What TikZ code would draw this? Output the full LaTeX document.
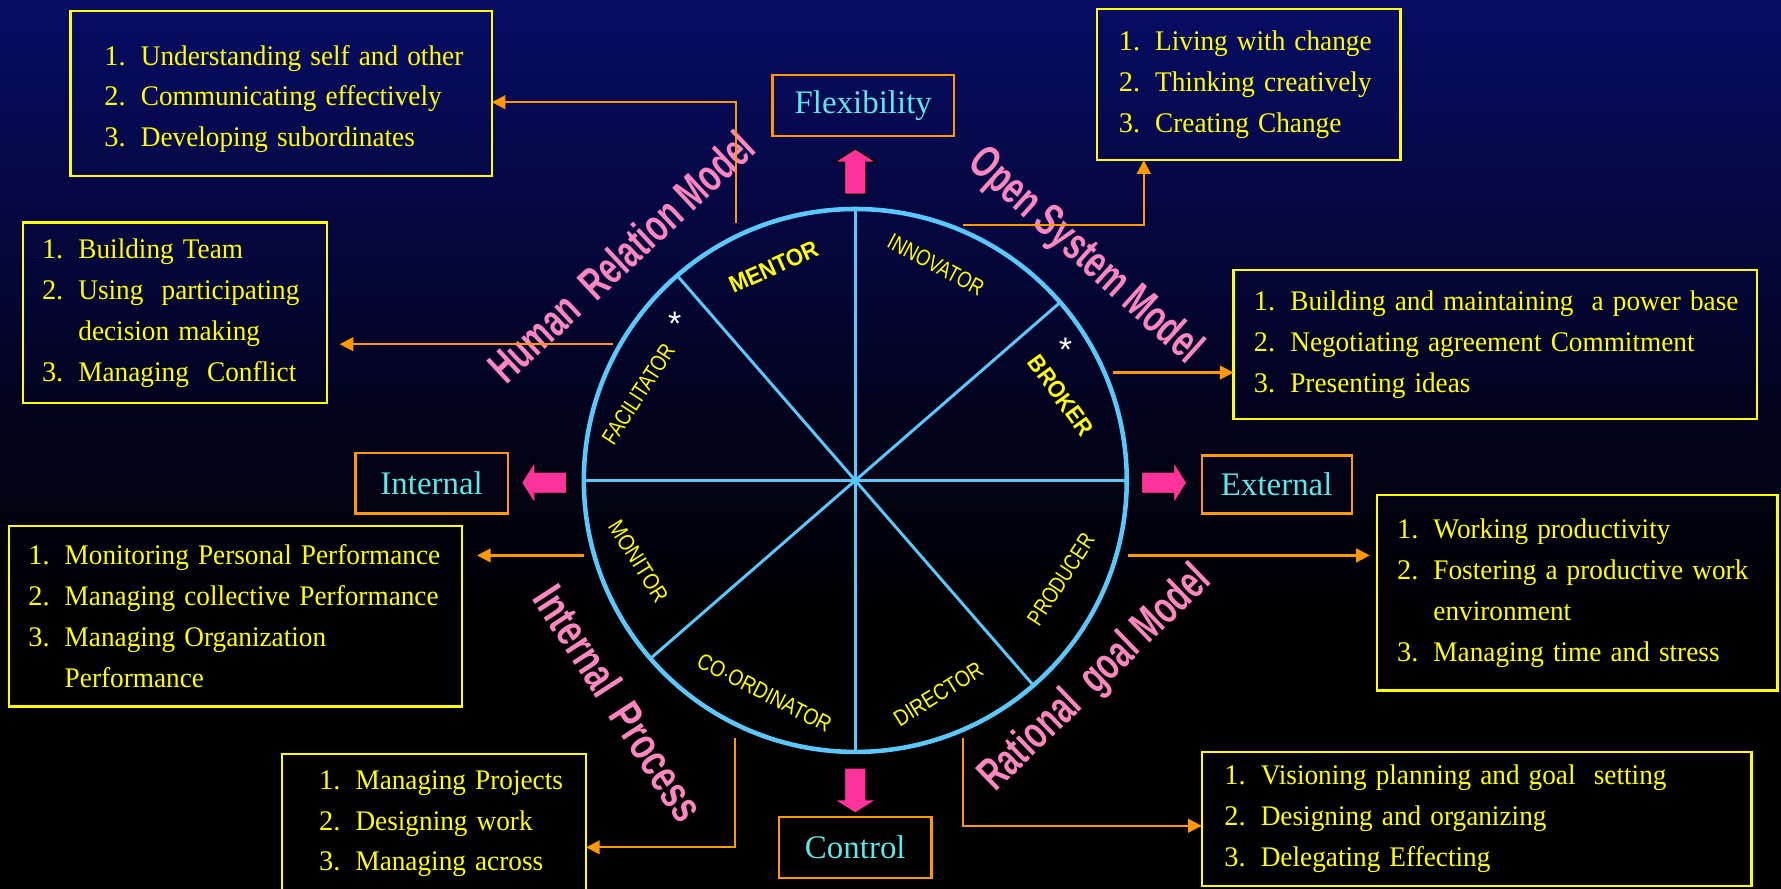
\documentclass[tikz,border=0pt]{standalone}
\usepackage{fontspec}
\setmainfont{Liberation Serif}
\newfontfamily\sansf{Liberation Sans}
\usetikzlibrary{arrows.meta}
\definecolor{bgtop}{RGB}{8,12,100}
\definecolor{bgmid}{RGB}{5,7,62}
\definecolor{bgbot}{RGB}{3,3,30}
\definecolor{boxyellow}{RGB}{255,255,0}
\definecolor{roleyellow}{RGB}{255,255,0}
\definecolor{connorange}{RGB}{255,153,0}
\definecolor{labelcyan}{RGB}{95,230,230}
\definecolor{wheelblue}{RGB}{90,200,250}
\definecolor{arrowpink}{RGB}{255,51,153}
\definecolor{modelpink}{RGB}{252,135,192}
\pgfdeclareverticalshading{bgshade}{100bp}{color(0bp)=(black); color(25bp)=(black); color(40bp)=(black); color(52bp)=(bgbot); color(62bp)=(bgmid); color(75bp)=(bgtop); color(100bp)=(bgtop)}
\newcommand{\itm}[2]{\mbox{\makebox[32pt][l]{#1}\scalebox{0.96}[1]{#2}}}
\newcommand{\cont}[1]{\mbox{\hspace*{32pt}\scalebox{0.96}[1]{#1}}}
\tikzset{
  blockarrow/.pic={\draw[fill=arrowpink, draw=black, line width=1.2pt]
    (0,-9.5) -- (28,-9.5) -- (28,-19) -- (40,0) -- (28,19) -- (28,9.5) -- (0,9.5) -- cycle;}
}
\begin{document}
\begin{tikzpicture}[x=1pt,y=-1pt,
  ybox/.style={draw=boxyellow, line width=2pt, text=boxyellow, font=\fontsize{25}{36}\selectfont, align=left, anchor=north west, inner ysep=0pt, outer sep=0pt},
  cbox/.style={draw=connorange, line width=2pt, text=labelcyan, font=\fontsize{29}{34}\selectfont, inner sep=0pt, outer sep=0pt},
  conn/.style={draw=connorange, line width=2pt, -{Triangle[length=12pt,width=12pt]}},
  spoke/.style={draw=wheelblue, line width=2.6pt},
  role/.style={text=roleyellow, font=\sansf\fontsize{20}{22}\selectfont, inner sep=0pt},
  rolebold/.style={role, font=\sansf\bfseries\fontsize{21}{22}\selectfont},
  model/.style={text=modelpink, font=\sansf\bfseries\fontsize{40}{42}\selectfont, inner sep=0pt},
  star/.style={text=white, font=\sansf\fontsize{30}{32}\selectfont, inner sep=0pt},
]
\useasboundingbox (0,0) rectangle (1568,782);
\shade[shading=bgshade] (0,0) rectangle (1568,782);

% wheel
\node[circle, draw=wheelblue, line width=4pt, minimum size=478pt, inner sep=0pt, outer sep=0pt] (wheel) at (753,423) {};
\draw[spoke] (wheel.41) -- (wheel.221);
\draw[spoke] (wheel.131) -- (wheel.311);
\draw[spoke] (wheel.0) -- (wheel.180);
\draw[spoke] (wheel.90) -- (wheel.270);

% roles
\node[rolebold, rotate=24] (mentor) at (681,235) {\scalebox{0.92}[1]{MENTOR}};
\node[role, rotate=-28] (innov) at (824,233) {\scalebox{0.8}[1]{INNOVATOR}};
\node[rolebold, rotate=-54] (broker) at (934,348) {\scalebox{0.9}[1]{BROKER}};
\node[role, rotate=57] (producer) at (934,510) {\scalebox{0.8}[1]{PRODUCER}};
\node[role, rotate=32] (director) at (826,611) {\scalebox{0.85}[1]{DIRECTOR}};
\node[role, rotate=-27] (coord) at (673,610) {\scalebox{0.84}[1]{CO$\cdot$ORDINATOR}};
\node[role, rotate=-58] (monitor) at (562,494) {\scalebox{0.86}[1]{MONITOR}};
\node[role, rotate=57] (facil) at (562,347) {\scalebox{0.8}[1]{FACILITATOR}};
\node[star] (star1) at (594,285) {*};
\node[star] (star2) at (938,308) {*};

% model labels
\node[model, rotate=43] (hrm) at (547,226) {\scalebox{0.685}[1]{Human\ \ Relation Model}};
\node[model, rotate=-42] (osm) at (955,226) {\scalebox{0.685}[1]{Open System Model}};
\node[model, rotate=44] (rgm) at (965,598) {\scalebox{0.685}[1]{Rational\ \ goal Model}};
\node[model, rotate=-57] (ipm) at (545,619) {\scalebox{0.74}[1]{Internal\ \ Process}};

% direction boxes
\node[cbox, minimum width=160pt, minimum height=54pt] (flex) at (760,93) {Flexibility};
\node[cbox, minimum width=134pt, minimum height=53pt] (intl) at (380,425.5) {Internal};
\node[cbox, minimum width=132pt, minimum height=51pt] (extl) at (1124,426.5) {External};
\node[cbox, minimum width=134pt, minimum height=54pt] (ctrl) at (753,746) {Control};

\pic[rotate=90] at (753,171) {blockarrow};
\pic[rotate=180] at (499,425) {blockarrow};
\pic at (1005,425) {blockarrow};
\pic[rotate=-90] at (753,676) {blockarrow};

% competence boxes
\node[ybox, minimum width=371pt, minimum height=145pt, inner xsep=30pt, text width=311pt] (b1) at (62,10)
  {\rule{0pt}{27pt}\itm{1.}{Understanding self and other}\\ \itm{2.}{Communicating effectively}\\ \itm{3.}{Developing subordinates}};
\node[ybox, minimum width=267pt, minimum height=133pt, inner xsep=19pt, text width=229pt] (b2) at (966,8)
  {\itm{1.}{Living with change}\\ \itm{2.}{Thinking creatively}\\ \itm{3.}{Creating Change}};
\node[ybox, minimum width=268pt, minimum height=159pt, inner xsep=17pt, text width=234pt] (b3) at (20,196)
  {\itm{1.}{Building Team}\\ \itm{2.}{Using\ \ participating}\\ \cont{decision making}\\ \itm{3.}{Managing\ \ Conflict}};
\node[ybox, minimum width=461pt, minimum height=131pt, inner xsep=18pt, text width=425pt] (b4) at (1086,238)
  {\itm{1.}{Building and maintaining\ \ a power base}\\ \itm{2.}{Negotiating agreement Commitment}\\ \itm{3.}{Presenting ideas}};
\node[ybox, minimum width=399pt, minimum height=159pt, inner xsep=17pt, text width=365pt] (b5) at (8,463)
  {\itm{1.}{Monitoring Personal Performance}\\ \itm{2.}{Managing collective Performance}\\ \itm{3.}{Managing Organization}\\ \cont{Performance}};
\node[ybox, minimum width=353pt, minimum height=172pt, inner xsep=18pt, text width=317pt] (b6) at (1212,436)
  {\itm{1.}{Working productivity}\\ \itm{2.}{Fostering a productive work}\\ \cont{environment}\\ \itm{3.}{Managing time and stress}};
\node[ybox, minimum width=268pt, minimum height=134pt, inner xsep=33pt, text width=202pt] (b7) at (248,664)
  {\itm{1.}{Managing Projects}\\ \itm{2.}{Designing work}\\ \itm{3.}{Managing across}\rule[-17pt]{0pt}{17pt}};
\node[ybox, minimum width=484pt, minimum height=118pt, inner xsep=20pt, text width=444pt] (b8) at (1058,662)
  {\itm{1.}{Visioning planning and goal\ \ setting}\\ \itm{2.}{Designing and organizing}\\ \itm{3.}{Delegating Effecting}};

% connectors
\coordinate (s1) at (648,196); \coordinate (k1) at (648,90);
\draw[conn] (s1) -- (k1) -- (k1 -| b1.east);
\coordinate (s2) at (848,198); \coordinate (k2) at (1007,198);
\draw[conn] (s2) -- (k2) -- (k2 |- b2.south);
\coordinate (s3) at (540,303);
\draw[conn, shorten >=11pt] (s3) -- (s3 -| b3.east);
\coordinate (s4) at (980,328);
\draw[conn] (s4) -- (s4 -| b4.west);
\coordinate (s5) at (514,489);
\draw[conn, shorten >=13pt] (s5) -- (s5 -| b5.east);
\coordinate (s6) at (993,489);
\draw[conn, shorten >=6pt] (s6) -- (s6 -| b6.west);
\coordinate (s7) at (647,650); \coordinate (k7) at (647,746);
\draw[conn] (s7) -- (k7) -- (k7 -| b7.east);
\coordinate (s8) at (848,650); \coordinate (k8) at (848,727);
\draw[conn] (s8) -- (k8) -- (k8 -| b8.west);
\end{tikzpicture}
\end{document}
